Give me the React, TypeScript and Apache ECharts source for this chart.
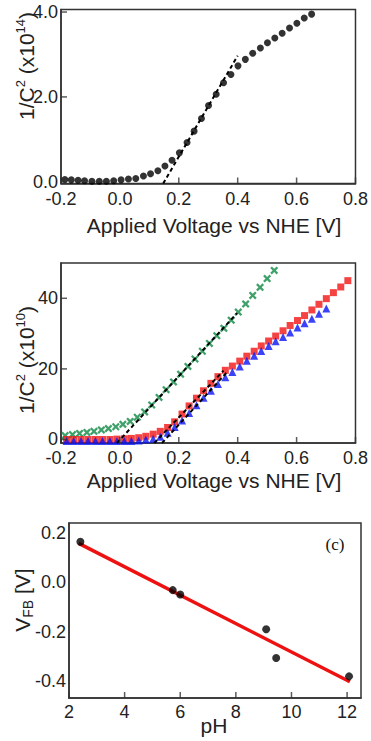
import React, { useEffect, useRef } from 'react';
import * as echarts from 'echarts';

// ---------- Panel (a): 1/C^2 (x10^14) vs applied voltage ----------
const topX = [-0.187, -0.165, -0.142, -0.12, -0.095, -0.07, -0.046, -0.021, 0.004, 0.029, 0.054, 0.08, 0.104, 0.129, 0.153, 0.177, 0.202, 0.228, 0.252, 0.277, 0.301, 0.327, 0.352, 0.377, 0.401, 0.426, 0.451, 0.477, 0.501, 0.526, 0.551, 0.576, 0.601, 0.626, 0.651];
const topY = [0.056, 0.046, 0.036, 0.026, 0.015, 0.015, 0.015, 0.026, 0.046, 0.067, 0.077, 0.138, 0.19, 0.261, 0.374, 0.507, 0.682, 0.928, 1.194, 1.491, 1.799, 2.065, 2.332, 2.527, 2.732, 2.885, 3.029, 3.152, 3.275, 3.388, 3.5, 3.623, 3.736, 3.859, 3.951];
const topFitX = [0.147, 0.4];
const topFitY = [-0.04, 2.97];

// ---------- Panel (b): 1/C^2 (x10^10) vs applied voltage ----------
const greenX = [-0.186, -0.161, -0.137, -0.112, -0.088, -0.063, -0.039, -0.014, 0.01, 0.035, 0.059, 0.084, 0.108, 0.133, 0.157, 0.182, 0.206, 0.231, 0.255, 0.28, 0.304, 0.329, 0.353, 0.378, 0.402, 0.427, 0.451, 0.476, 0.5, 0.524];
const greenY = [1.1, 1.4, 1.7, 2.0, 2.3, 2.7, 3.1, 3.6, 4.3, 5.1, 6.3, 7.8, 9.8, 11.9, 14.1, 16.3, 18.5, 20.7, 22.8, 25.0, 27.2, 29.4, 31.5, 33.8, 36.1, 38.4, 40.8, 43.1, 45.6, 47.9];
const redX = [-0.181, -0.157, -0.132, -0.108, -0.083, -0.059, -0.034, -0.01, 0.015, 0.039, 0.064, 0.088, 0.113, 0.137, 0.162, 0.186, 0.211, 0.235, 0.26, 0.284, 0.309, 0.333, 0.358, 0.382, 0.407, 0.431, 0.456, 0.48, 0.505, 0.529, 0.554, 0.578, 0.603, 0.627, 0.652, 0.676, 0.701, 0.725, 0.75, 0.774];
const redY = [0.0, 0.0, 0.0, 0.0, 0.0, 0.0, 0.0, 0.1, 0.2, 0.3, 0.5, 0.9, 1.5, 2.3, 3.4, 5.0, 7.2, 9.5, 11.7, 13.8, 15.9, 17.8, 19.6, 20.8, 22.2, 23.6, 25.0, 26.5, 27.9, 29.3, 30.8, 32.3, 33.7, 35.1, 36.7, 38.3, 39.9, 41.6, 43.2, 45.0];
const blueX = [-0.181, -0.157, -0.132, -0.108, -0.083, -0.059, -0.034, -0.01, 0.015, 0.039, 0.064, 0.088, 0.113, 0.137, 0.162, 0.186, 0.211, 0.235, 0.26, 0.284, 0.309, 0.333, 0.358, 0.382, 0.407, 0.431, 0.456, 0.48, 0.505, 0.529, 0.554, 0.578, 0.603, 0.627, 0.652, 0.676, 0.701];
const blueY = [-0.4, -0.4, -0.4, -0.4, -0.4, -0.4, -0.4, -0.4, -0.4, -0.4, -0.3, 0.0, 0.2, 0.8, 1.9, 3.5, 5.4, 7.5, 9.7, 11.8, 13.8, 15.7, 17.6, 19.1, 20.7, 22.3, 23.7, 25.1, 26.5, 27.8, 29.0, 30.3, 31.7, 32.9, 34.2, 35.6, 37.1];
const greenFitX = [-0.01, 0.398];
const greenFitY = [-1.0, 35.8];
const redFitX = [0.117, 0.352];
const redFitY = [-1.0, 19.5];
const blueFitX = [0.143, 0.362];
const blueFitY = [-1.0, 18.9];

// ---------- Panel (c): V_FB vs pH ----------
const phX = [2.41, 5.73, 6.0, 9.09, 9.45, 12.07];
const vfbY = [0.166, -0.031, -0.049, -0.19, -0.307, -0.382];
const phFitX = [2.35, 12.1];
const phFitY = [0.159, -0.404];

// ---------- axis ranges and tick values ----------
const voltRange = [-0.2, 0.8];
const topYRange = [-0.04, 4.06];
const midYRange = [-1.0, 50];
const phRange = [2, 12.5];
const vfbRange = [-0.47, 0.242];
const voltTicks = [-0.2, 0, 0.2, 0.4, 0.6, 0.8];
const topYTicks = [0, 2, 4];
const midYTicks = [0, 20, 40];
const phTicks = [2, 4, 6, 8, 10, 12];
const vfbTicks = [-0.4, -0.2, 0, 0.2];

const pts = (xs: number[], ys: number[]) => xs.map((x, i) => [x, ys[i]]);

const FONT = 'Liberation Sans, Arial, sans-serif';
const INK = '#222';
const BORDER = '#333';

const crossPath = 'path://M0,2 L2,0 L5,3 L8,0 L10,2 L7,5 L10,8 L8,10 L5,7 L2,10 L0,8 L3,5 Z';

function axisX(gridIndex: number, range: number[], ticks: number[], fmt: (v: number) => string, margin: number) {
  return {
    type: 'value', gridIndex, min: range[0], max: range[1], position: 'bottom',
    axisLine: { show: true, onZero: false, lineStyle: { color: BORDER, width: 1.5 } },
    splitLine: { show: false },
    axisTick: { show: false },
    axisLabel: { customValues: ticks, formatter: fmt, color: INK, fontSize: 18, lineHeight: 14, fontFamily: FONT, margin },
  };
}
function axisY(gridIndex: number, range: number[], ticks: number[], fmt: (v: number) => string) {
  return {
    type: 'value', gridIndex, min: range[0], max: range[1], position: 'left',
    axisLine: { show: true, onZero: false, lineStyle: { color: BORDER, width: 1.5 } },
    splitLine: { show: false },
    axisTick: { show: false },
    axisLabel: { customValues: ticks, formatter: fmt, color: INK, fontSize: 18, lineHeight: 12, fontFamily: FONT, margin: 3 },
  };
}

// inward tick marks, placed through the axes' own scales
function xTicks(idx: number, ticks: number[], yMin: number) {
  return {
    type: 'scatter', xAxisIndex: idx, yAxisIndex: idx, silent: true, clip: false, z: 5,
    data: ticks.map((t) => [t, yMin]), symbol: 'rect', symbolSize: [1.5, 6], symbolOffset: [0, -3],
    itemStyle: { color: BORDER },
  };
}
function yTicks(idx: number, ticks: number[], xMin: number) {
  return {
    type: 'scatter', xAxisIndex: idx, yAxisIndex: idx, silent: true, clip: false, z: 5,
    data: ticks.map((t) => [xMin, t]), symbol: 'rect', symbolSize: [6, 1.5], symbolOffset: [3, 0],
    itemStyle: { color: BORDER },
  };
}

const f1 = (v: number) => (Math.abs(v) < 1e-9 ? 0 : v).toFixed(1);
const f0 = (v: number) => String(Math.round(v));

export default function App() {
  const ref = useRef<HTMLDivElement>(null);
  useEffect(() => {
    if (!ref.current) return;
    const chart = echarts.init(ref.current, null, { renderer: 'svg' });
    const dashed = { color: '#000', width: 2, type: [4, 3] as any };
    const titleRich = {
      a: { fontSize: 21, fontFamily: FONT, fill: INK, color: INK },
      s: { fontSize: 13, fontFamily: FONT, fill: INK, color: INK, padding: [0, 0, 12, 0] },
      d: { fontSize: 14, fontFamily: FONT, fill: INK, color: INK, padding: [11, 0, 0, 0] },
    };
    chart.setOption({
      animation: false,
      backgroundColor: '#fff',
      grid: [
        { left: 61, top: 9.5, width: 300, height: 174, show: true, borderColor: BORDER, borderWidth: 1.5, backgroundColor: 'transparent' },
        { left: 61, top: 263, width: 300, height: 180, show: true, borderColor: BORDER, borderWidth: 1.5, backgroundColor: 'transparent' },
        { left: 69, top: 523, width: 292, height: 175, show: true, borderColor: BORDER, borderWidth: 1.5, backgroundColor: 'transparent' },
      ],
      xAxis: [
        axisX(0, voltRange, voltTicks, f1, 8),
        axisX(1, voltRange, voltTicks, f1, 8),
        axisX(2, phRange, phTicks, f0, 7),
      ],
      yAxis: [
        axisY(0, topYRange, topYTicks, f1),
        axisY(1, midYRange, midYTicks, f0),
        axisY(2, vfbRange, vfbTicks, f1),
      ],
      series: [
        { type: 'scatter', xAxisIndex: 0, yAxisIndex: 0, data: pts(topX, topY), symbol: 'circle', symbolSize: 7, itemStyle: { color: '#000' }, z: 3 },
        { type: 'line', xAxisIndex: 0, yAxisIndex: 0, data: pts(topFitX, topFitY), symbol: 'none', lineStyle: dashed, z: 4 },
        xTicks(0, voltTicks, topYRange[0]),
        yTicks(0, topYTicks, voltRange[0]),

        { type: 'scatter', xAxisIndex: 1, yAxisIndex: 1, data: pts(greenX, greenY), symbol: crossPath, symbolSize: 8, itemStyle: { color: '#0f8a45' }, z: 3 },
        { type: 'scatter', xAxisIndex: 1, yAxisIndex: 1, data: pts(redX, redY), symbol: 'rect', symbolSize: 7, itemStyle: { color: '#f21414' }, z: 3 },
        { type: 'scatter', xAxisIndex: 1, yAxisIndex: 1, data: pts(blueX, blueY), symbol: 'triangle', symbolSize: 8, itemStyle: { color: '#0a14f5' }, z: 3 },
        { type: 'line', xAxisIndex: 1, yAxisIndex: 1, data: pts(greenFitX, greenFitY), symbol: 'none', lineStyle: dashed, z: 4 },
        { type: 'line', xAxisIndex: 1, yAxisIndex: 1, data: pts(redFitX, redFitY), symbol: 'none', lineStyle: dashed, z: 4 },
        { type: 'line', xAxisIndex: 1, yAxisIndex: 1, data: pts(blueFitX, blueFitY), symbol: 'none', lineStyle: dashed, z: 4 },
        xTicks(1, voltTicks, midYRange[0]),
        yTicks(1, midYTicks, voltRange[0]),

        { type: 'line', xAxisIndex: 2, yAxisIndex: 2, data: pts(phFitX, phFitY), symbol: 'none', lineStyle: { color: '#ee1111', width: 3.5 }, z: 2 },
        { type: 'scatter', xAxisIndex: 2, yAxisIndex: 2, data: pts(phX, vfbY), symbol: 'circle', symbolSize: 8, itemStyle: { color: '#000' }, z: 3 },
        xTicks(2, phTicks, vfbRange[0]),
      ],
      graphic: [
        { type: 'text', x: 26, y: 66, rotation: Math.PI / 2, style: { text: '{a|1/C}{s|2}{a| (x10}{s|14}{a|)}', rich: titleRich, align: 'center', verticalAlign: 'middle' } },
        { type: 'text', x: 214, y: 225, style: { text: 'Applied Voltage vs NHE [V]', fontSize: 21, fontFamily: FONT, fill: INK, align: 'center', verticalAlign: 'middle' } },
        { type: 'text', x: 26, y: 360, rotation: Math.PI / 2, style: { text: '{a|1/C}{s|2}{a| (x10}{s|10}{a|)}', rich: titleRich, align: 'center', verticalAlign: 'middle' } },
        { type: 'text', x: 214, y: 480, style: { text: 'Applied Voltage vs NHE [V]', fontSize: 21, fontFamily: FONT, fill: INK, align: 'center', verticalAlign: 'middle' } },
        { type: 'text', x: 22, y: 600, rotation: Math.PI / 2, style: { text: '{a|V}{d|FB}{a| [V]}', rich: titleRich, align: 'center', verticalAlign: 'middle' } },
        { type: 'text', x: 214, y: 725, style: { text: 'pH', fontSize: 21, fontFamily: FONT, fill: INK, align: 'center', verticalAlign: 'middle' } },
        { type: 'text', x: 335, y: 544, style: { text: '(c)', fontSize: 17, fontFamily: 'Liberation Serif, Times New Roman, serif', fill: '#111', align: 'center', verticalAlign: 'middle' } },
      ],
    });
    return () => chart.dispose();
  }, []);
  return <div ref={ref} style={{ position: 'absolute', left: 0, top: 0, width: 371, height: 741, background: '#fff' }} />;
}
